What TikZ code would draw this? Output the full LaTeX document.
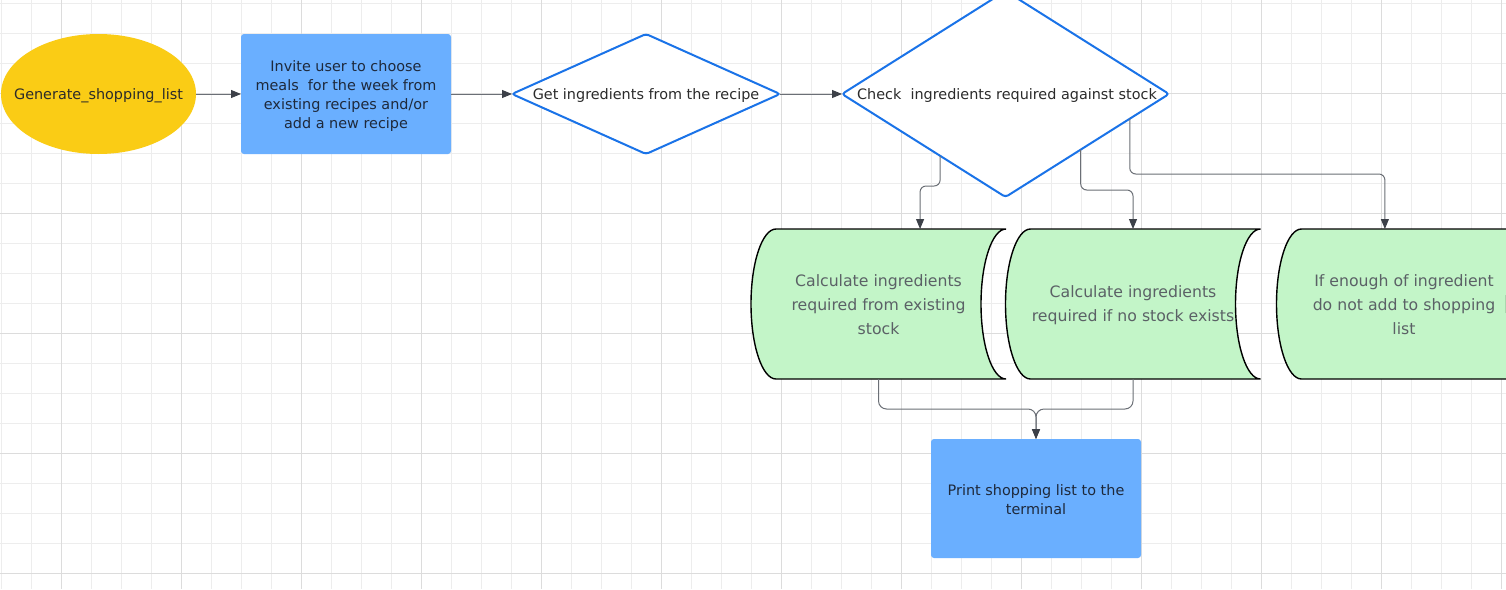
\documentclass[tikz,border=0pt]{standalone}
\usepackage{fontspec}
\setmainfont{DejaVu Sans}
\usetikzlibrary{shapes.geometric,arrows.meta,calc}
\definecolor{gridminor}{HTML}{EDEDED}
\definecolor{gridmajor}{HTML}{DCDCDC}
\definecolor{yell}{HTML}{FACC15}
\definecolor{boxblue}{HTML}{6AAFFF}
\definecolor{diablue}{HTML}{1A73E8}
\definecolor{cylgreen}{HTML}{C3F5C8}
\definecolor{conngray}{HTML}{6B6F76}
\definecolor{tipgray}{HTML}{3C4048}
\definecolor{txtdark}{HTML}{2B2B2B}
\definecolor{txtnavy}{HTML}{1E293B}
\definecolor{txtgray}{HTML}{5B6166}
\pgfdeclarelayer{gridlayer}
\pgfdeclarelayer{shapelayer}
\pgfsetlayers{gridlayer,shapelayer,main}
\tikzset{
  smalltext/.style={font=\fontsize{14.4}{19}\selectfont, align=center, inner sep=0pt},
  bigtext/.style={font=\fontsize{15.7}{24}\selectfont, align=center, inner sep=0pt, text=txtgray},
  bluebox/.style={rectangle, fill=boxblue, rounded corners=3pt, inner sep=0pt, outer sep=0pt},
  decision/.style={diamond, draw=diablue, line width=2pt, fill=white, rounded corners=3pt, inner sep=0pt, outer sep=0pt},
  storenode/.style={rectangle, minimum width=255pt, minimum height=150pt, inner sep=0pt, outer sep=0pt},
  storeshape/.style={draw=black, line width=1.4pt, fill=cylgreen},
  conn/.style={draw=conngray, line width=1pt, -{Triangle[length=10pt,width=8pt,color=tipgray]}},
}
\newcommand\storedshape[1]{%
  \begin{pgfonlayer}{shapelayer}
  \path[storeshape] ($(#1.north west)+(25pt,0)$) -- (#1.north east)
    arc[start angle=90,end angle=270,x radius=25pt,y radius=75pt]
    -- ($(#1.south west)+(25pt,0)$)
    arc[start angle=270,end angle=90,x radius=25pt,y radius=75pt] -- cycle;
  \end{pgfonlayer}}
\begin{document}
\begin{tikzpicture}[x=1pt,y=-1pt]
\useasboundingbox (0,0) rectangle (1506,589);
\clip (0,0) rectangle (1506,589);
\begin{pgfonlayer}{gridlayer}
  \fill[white] (0,0) rectangle (1506,589);
  \foreach \x in {1,31,...,1501} \draw[gridminor, line width=1pt] (\x,0) -- (\x,589);
  \foreach \y in {3,33,...,573} \draw[gridminor, line width=1pt] (0,\y) -- (1506,\y);
  \foreach \x in {61,181,...,1501} \draw[gridmajor, line width=1pt] (\x,0) -- (\x,589);
  \foreach \y in {93,213,...,573} \draw[gridmajor, line width=1pt] (0,\y) -- (1506,\y);
\end{pgfonlayer}

% start ellipse
\node[ellipse, fill=yell, minimum width=195pt, minimum height=120pt, inner sep=0pt, outer sep=0pt] (start) at (98.5,94) {};
\node[smalltext, text=txtdark] (start-t) at ($(start)+(0,1.5)$) {Generate\_shopping\_list};

% invite box
\node[bluebox, minimum width=210pt, minimum height=120pt] (invite) at (346,94) {};
\node[smalltext, text=txtnavy] (invite-t) at ($(invite)+(0,2)$)
  {Invite user to choose\\meals\ \ for the week from\\existing recipes and/or\\add a new recipe};

% decisions
\node[decision, minimum width=268pt, minimum height=120pt] (d1) at (646,94) {};
\node[smalltext, text=txtdark] (d1-t) at ($(d1)+(0,2)$) {Get ingredients from the recipe};
\node[decision, minimum width=327pt, minimum height=206pt] (d2) at (1005.5,94) {};
\node[smalltext, text=txtdark] (d2-t) at ($(d2)+(1.5,2)$) {Check\ \ ingredients required against stock};

% stored data shapes
\node[storenode] (c1) at (878.5,304) {};
\storedshape{c1}
\node[bigtext] (c1-t) at ($(c1)+(0,1)$) {Calculate ingredients\\required from existing\\stock};
\node[storenode] (c2) at (1133,304) {};
\storedshape{c2}
\node[bigtext] (c2-t) at ($(c2)+(0,1)$) {Calculate ingredients\\required if no stock exists};
\node[storenode] (c3) at (1404,304) {};
\storedshape{c3}
\node[bigtext] (c3-t) at ($(c3)+(0,1)$) {If enough of ingredient\\do not add to shopping\\list};

% print box
\node[bluebox, minimum width=210pt, minimum height=119pt] (print) at (1036,498.5) {};
\node[smalltext, text=txtnavy] (print-t) at ($(print)+(0,1)$) {Print shopping list to the\\terminal};

% connectors row 1
\draw[conn] (start.east) -- (invite.west);
\draw[conn] (invite.east) -- (d1.west);
\draw[conn] (d1.east) -- (d2.west);

% connectors from d2
\coordinate (a0) at ($(d2.west)!0.6!(d2.south)$);
\coordinate (a1) at ($(c1.north west)!0.663!(c1.north east)$);
\draw[conn, rounded corners=6pt] (a0) -- (a0 |- 0,186) -- (a1 |- 0,186) -- (a1);
\coordinate (b0) at ($(d2.south)!0.46!(d2.east)$);
\draw[conn, rounded corners=6pt] (b0) -- (b0 |- 0,190) -- (c2.north |- 0,190) -- (c2.north);
\coordinate (e0) at ($(d2.south)!0.76!(d2.east)$);
\coordinate (e1) at ($(c3.north west)!0.425!(c3.north east)$);
\draw[conn, rounded corners=6pt] (e0) -- (e0 |- 0,174) -- (e1 |- 0,174) -- (e1);

% connectors to print
\draw[conn, rounded corners=8pt] (c1.south) -- (c1.south |- 0,409) -- (print.north |- 0,409) -- (print.north);
\draw[conn, rounded corners=8pt] (c2.south) -- (c2.south |- 0,409) -- (print.north |- 0,409) -- (print.north);
\end{tikzpicture}
\end{document}
